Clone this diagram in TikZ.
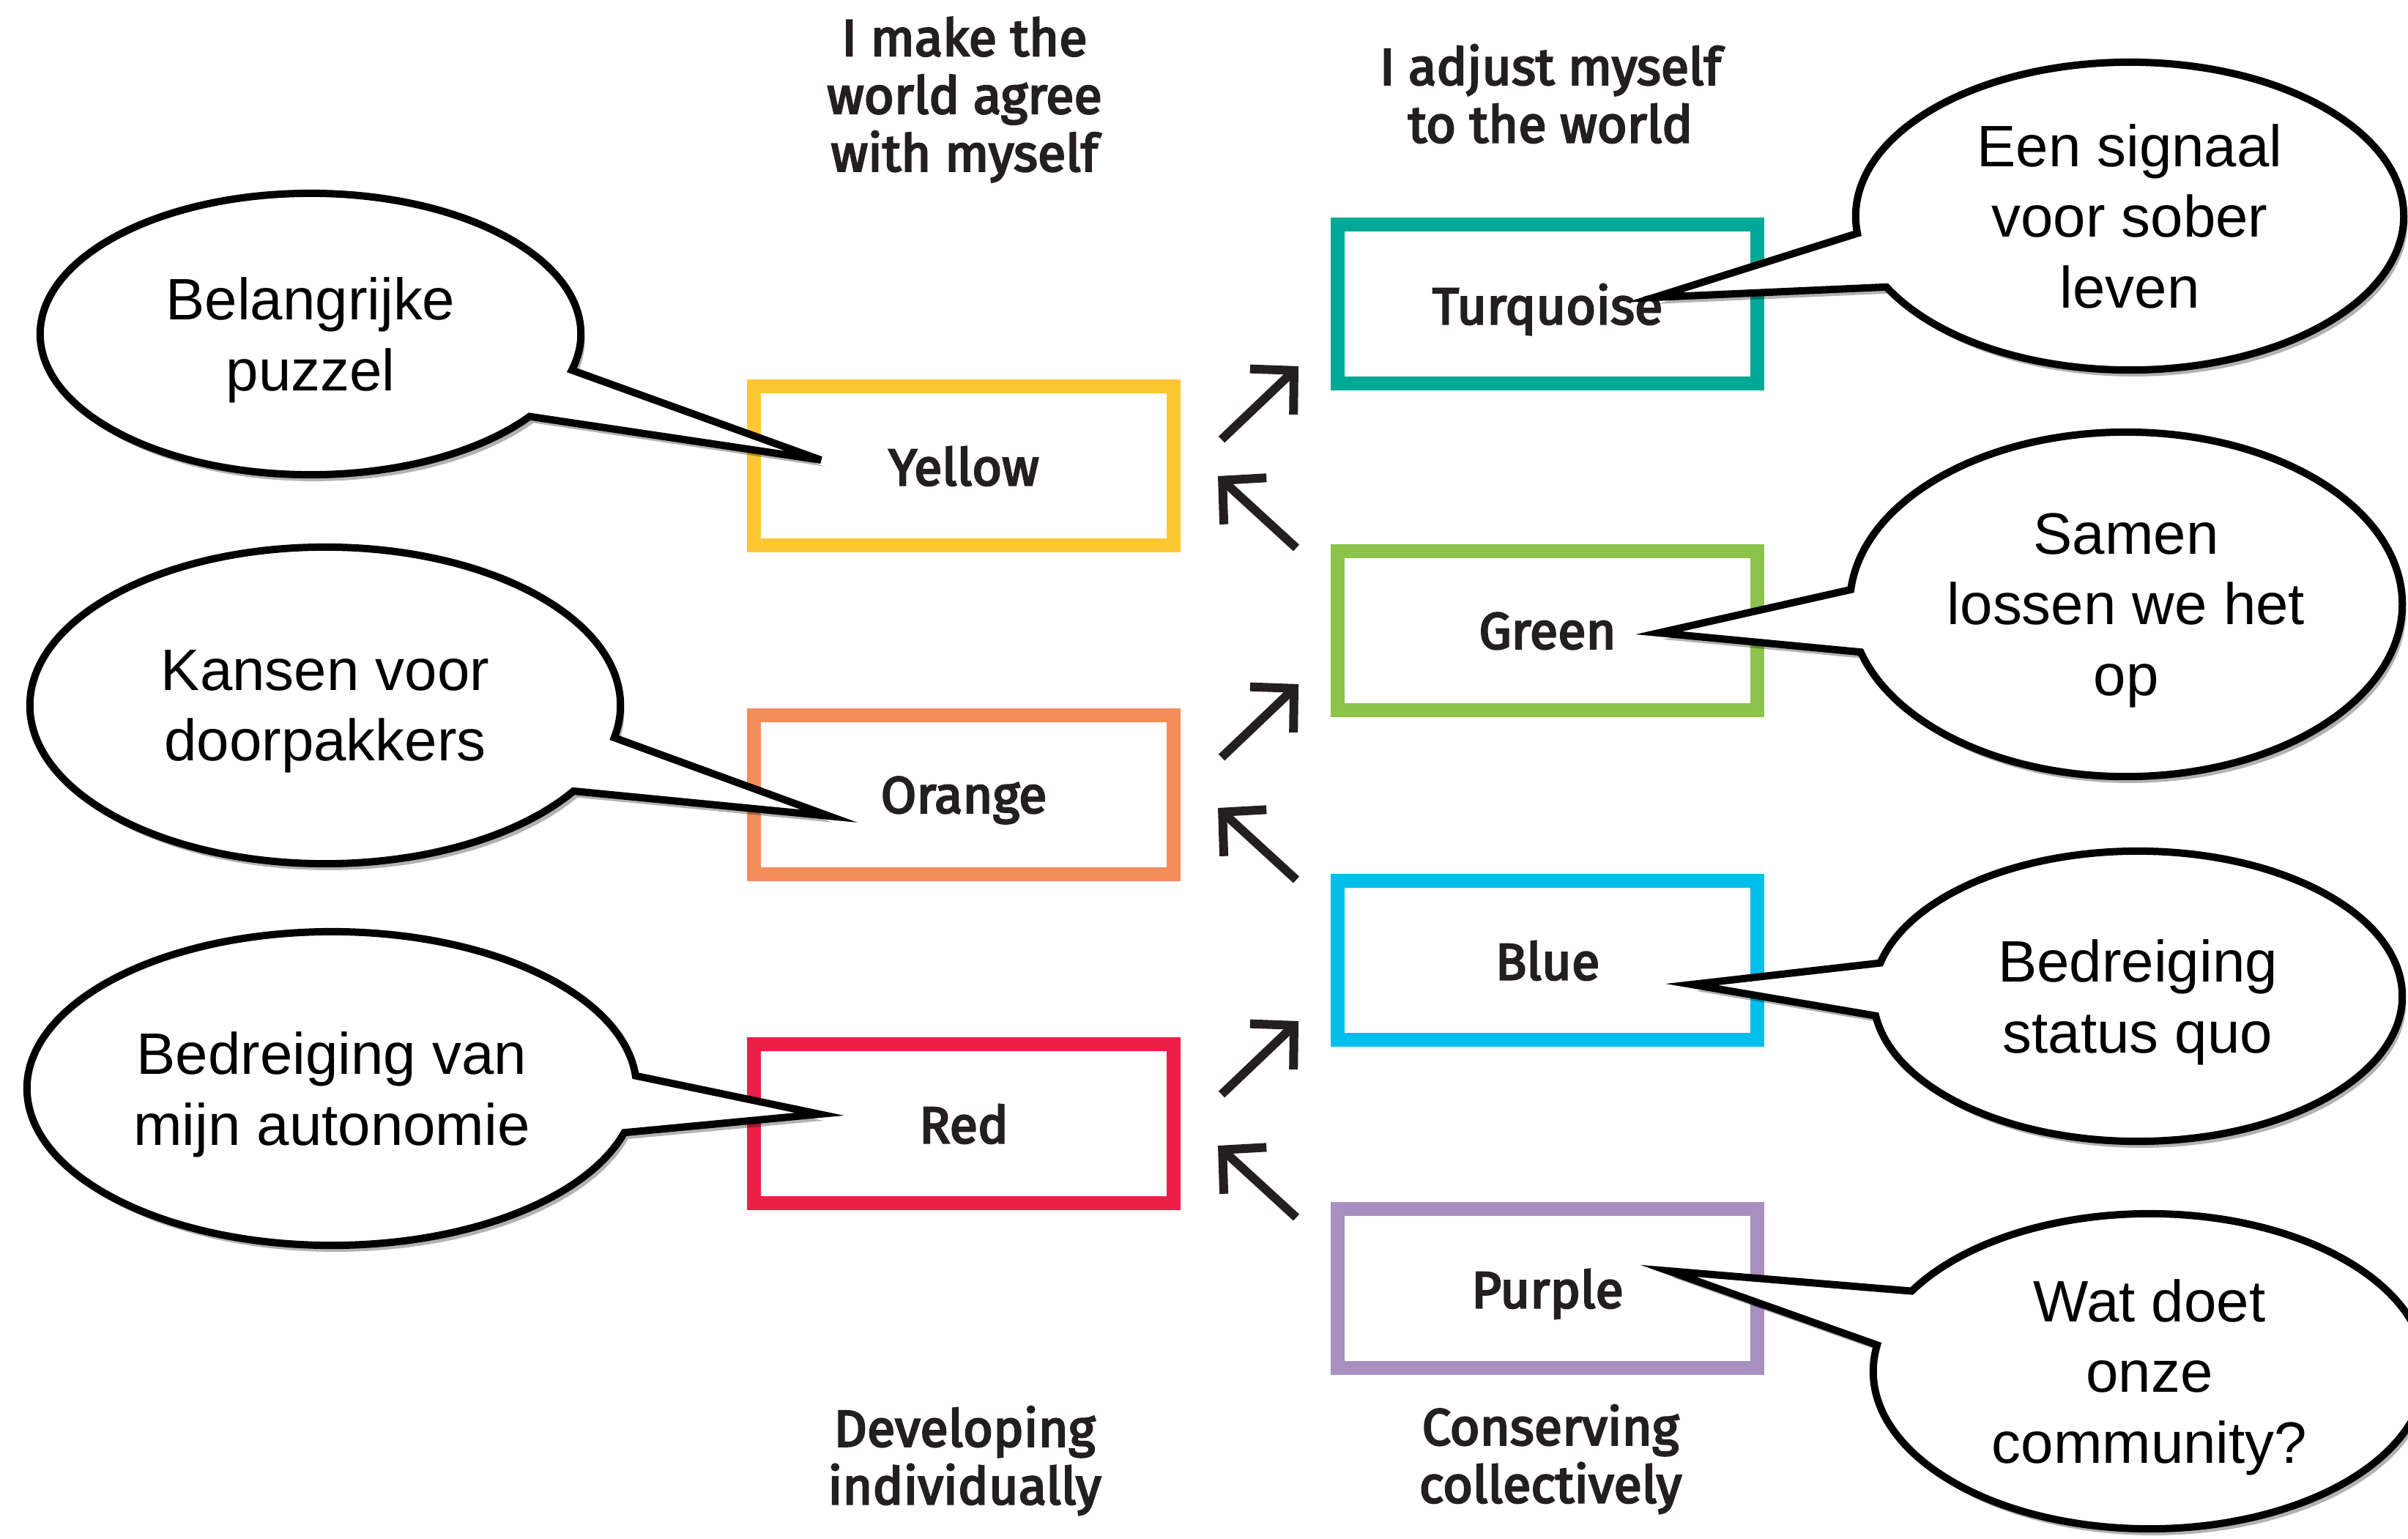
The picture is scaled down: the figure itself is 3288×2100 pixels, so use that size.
\documentclass[tikz,border=0pt]{standalone}
\usepackage{fontspec}
\setmainfont{Liberation Sans}
\newfontfamily\lblfont{Fira Sans}[FakeBold=3.5]
\usetikzlibrary{shapes.callouts,shadows,arrows.meta}

\definecolor{cyellow}{HTML}{FEC833}
\definecolor{corange}{HTML}{F38E5A}
\definecolor{cred}{HTML}{EB1F48}
\definecolor{cturq}{HTML}{00A896}
\definecolor{cgreen}{HTML}{8CC34B}
\definecolor{cblue}{HTML}{00BEEB}
\definecolor{cpurple}{HTML}{A78FC0}
\definecolor{ctext}{HTML}{231F20}

\begin{document}
\begin{tikzpicture}[x=0.01cm,y=-0.01cm,
    level/.style={draw, line width=0.19cm, minimum width=5.73cm, minimum height=2.17cm,
      inner sep=0pt, text depth=0pt, text=ctext, font=\lblfont\fontsize{20}{22.4}\selectfont},
    caption/.style={align=center, inner sep=0pt, text=ctext, font=\lblfont\fontsize{20}{22.4}\selectfont},
    bubble/.style={ellipse callout, draw=black, fill=white, line width=0.1cm, inner sep=0pt,
      align=center, text depth=0pt, font=\fontsize{22.7}{27.4}\selectfont, callout pointer arc=21,
      drop shadow={shadow xshift=1.5pt, shadow yshift=-2.5pt, opacity=0.3, fill=black}},
    shift arrow/.style={line width=0.12cm, draw=ctext, -{Straight Barb[length=0.42cm, width=0.86cm, sharp]}}]
    \useasboundingbox (0,0) rectangle (3288,2100);
    \clip (0,0) rectangle (3288,2100);

    % column headings
    \node [caption] (headleft) at (1317,136) {I make the\\world agree\\with myself};
    \node [caption] (headright) at (2117,128) {I adjust myself\\to the world};
    \node [caption] (footleft) at (1317,1994) {Developing\\individually};
    \node [caption] (footright) at (2117,1992) {Conserving\\collectively};

    % the levels
    \node [level, draw=cyellow] (yellow) at (1316,636) {Yellow};
    \node [level, draw=corange] (orange) at (1316,1085) {Orange};
    \node [level, draw=cred] (red) at (1316,1534) {Red};
    \node [level, draw=cturq] (turq) at (2113,415) {Turquoise};
    \node [level, draw=cgreen] (green) at (2113,861) {Green};
    \node [level, draw=cblue] (blue) at (2113,1311) {Blue};
    \node [level, draw=cpurple] (purple) at (2113,1759) {Purple};

    % where the speech bubbles point
    \coordinate (tipyellow) at (1121,628);
    \coordinate (tiporange) at (1132,1114);
    \coordinate (tipred) at (1119,1521);
    \coordinate (tipturq) at (2259,406);
    \coordinate (tipgreen) at (2265,864);
    \coordinate (tipblue) at (2310,1344);
    \coordinate (tippurple) at (2278,1735);

    \node [bubble, minimum width=7.38cm, minimum height=3.84cm, callout absolute pointer={(tipyellow)}]
      (bubyellow) at (424,456) {Belangrijke\\puzzel};
    \node [bubble, minimum width=8.06cm, minimum height=4.32cm, callout absolute pointer={(tiporange)}]
      (buborange) at (444,963) {Kansen voor\\doorpakkers};
    \node [bubble, minimum width=8.32cm, minimum height=4.28cm, callout absolute pointer={(tipred)}]
      (bubred) at (453,1486) {Bedreiging van\\mijn autonomie};
    \node [bubble, minimum width=7.48cm, minimum height=4.20cm, callout absolute pointer={(tipturq)}]
      (bubturq) at (2908,295) {Een signaal\\voor sober\\leven};
    \node [bubble, minimum width=7.54cm, minimum height=4.70cm, callout absolute pointer={(tipgreen)}]
      (bubgreen) at (2903,825) {Samen\\lossen we het\\op};
    \node [bubble, minimum width=7.22cm, minimum height=3.96cm, callout absolute pointer={(tipblue)}]
      (bubblue) at (2919,1360) {Bedreiging\\status quo};
    \node [bubble, minimum width=7.54cm, minimum height=4.30cm, callout absolute pointer={(tippurple)}]
      (bubpurple) at (2935,1872) {Wat doet\\onze\\community?};

    % arrows between the two columns
    \coordinate (up1s) at (1668,600);  \coordinate (up1e) at (1773,500);
    \coordinate (dn1s) at (1770,748);  \coordinate (dn1e) at (1663,650);
    \coordinate (up2s) at (1668,1034); \coordinate (up2e) at (1773,934);
    \coordinate (dn2s) at (1770,1201); \coordinate (dn2e) at (1663,1103);
    \coordinate (up3s) at (1668,1494); \coordinate (up3e) at (1773,1394);
    \coordinate (dn3s) at (1770,1662); \coordinate (dn3e) at (1663,1564);
    \draw [shift arrow] (up1s) -- (up1e);
    \draw [shift arrow] (dn1s) -- (dn1e);
    \draw [shift arrow] (up2s) -- (up2e);
    \draw [shift arrow] (dn2s) -- (dn2e);
    \draw [shift arrow] (up3s) -- (up3e);
    \draw [shift arrow] (dn3s) -- (dn3e);
\end{tikzpicture}
\end{document}
